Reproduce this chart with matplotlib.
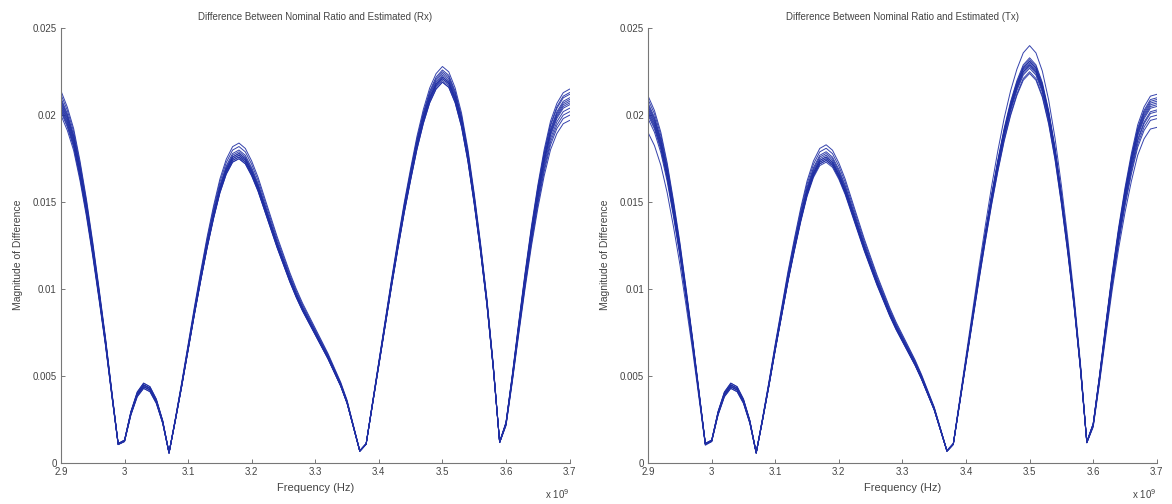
import numpy as np
import matplotlib
matplotlib.use('Agg')
import matplotlib.pyplot as plt
from matplotlib.ticker import FuncFormatter

plt.rcParams['font.family'] = ['Liberation Sans', 'DejaVu Sans']

# frequency grid (GHz), 10 MHz steps
freq_ghz = np.round(np.arange(2.90, 3.705, 0.01), 2)

# typical (centre of the bundle) curve
rx_base = [0.0207, 0.0198, 0.0186, 0.0168, 0.0147, 0.0123, 0.0097, 0.0070, 0.0040, 0.0011,
           0.0013, 0.0029, 0.0040, 0.0045, 0.0043, 0.0036, 0.0024, 0.0006,
           0.0025, 0.0045, 0.0066, 0.0087, 0.0107, 0.0126, 0.0143, 0.0158, 0.0169, 0.0176,
           0.0178, 0.0175, 0.0168, 0.0159, 0.0148, 0.0137, 0.0126, 0.0116, 0.0106, 0.0097,
           0.0089, 0.0082, 0.0075, 0.0068, 0.0061, 0.0053, 0.0045, 0.0035, 0.0021, 0.0007,
           0.0011, 0.0034, 0.0057, 0.0080, 0.0103, 0.0125, 0.0146, 0.0165, 0.0183, 0.0198,
           0.0210, 0.0218, 0.0222, 0.0219, 0.0210, 0.0196, 0.0176, 0.0151, 0.0123, 0.0092,
           0.0055, 0.0012,
           0.0023, 0.0050, 0.0079, 0.0107, 0.0133, 0.0156, 0.0176, 0.0192, 0.0202, 0.0208, 0.0210]

tx_base = [0.0203, 0.0195, 0.0183, 0.0166, 0.0145, 0.0122, 0.0096, 0.0069, 0.0040, 0.0011,
           0.0013, 0.0029, 0.0040, 0.0045, 0.0043, 0.0036, 0.0024, 0.0006,
           0.0025, 0.0045, 0.0066, 0.0086, 0.0106, 0.0124, 0.0141, 0.0156, 0.0167, 0.0174,
           0.0176, 0.0173, 0.0166, 0.0157, 0.0146, 0.0135, 0.0124, 0.0114, 0.0104, 0.0095,
           0.0086, 0.0078, 0.0071, 0.0064, 0.0057, 0.0049, 0.0040, 0.0031, 0.0019, 0.0007,
           0.0011, 0.0035, 0.0059, 0.0083, 0.0107, 0.0130, 0.0152, 0.0172, 0.0190, 0.0205,
           0.0217, 0.0226, 0.0230, 0.0226, 0.0216, 0.0200, 0.0179, 0.0153, 0.0124, 0.0092,
           0.0055, 0.0012,
           0.0022, 0.0049, 0.0078, 0.0106, 0.0131, 0.0153, 0.0172, 0.0188, 0.0198, 0.0204, 0.0205]

# lobes are separated by the notches
lobe_edges = [2.995, 3.075, 3.375, 3.595]

# peak of each of the 12 traces in every lobe (lobe 0 = value at 2.9 GHz, lobe 4 = value at 3.7 GHz)
rx_lobe0 = [0.0214, 0.0212, 0.0210, 0.0209, 0.0208, 0.0207, 0.0206, 0.0205, 0.0204, 0.0203, 0.0202, 0.0200]
rx_lobe1 = [0.0046, 0.0046, 0.0045, 0.0045, 0.0045, 0.0045, 0.0044, 0.0044, 0.0044, 0.0044, 0.0043, 0.0043]
rx_lobe2 = [0.0184, 0.0182, 0.0180, 0.0179, 0.0178, 0.0178, 0.0177, 0.0177, 0.0176, 0.0176, 0.0175, 0.0175]
rx_lobe3 = [0.0228, 0.0226, 0.0225, 0.0224, 0.0223, 0.0222, 0.0222, 0.0221, 0.0221, 0.0220, 0.0219, 0.0219]
rx_lobe4 = [0.0215, 0.0213, 0.0212, 0.0210, 0.0209, 0.0208, 0.0207, 0.0206, 0.0204, 0.0202, 0.0200, 0.0197]

tx_lobe0 = [0.0211, 0.0209, 0.0207, 0.0206, 0.0205, 0.0204, 0.0203, 0.0202, 0.0201, 0.0200, 0.0198, 0.0190]
tx_lobe1 = [0.0046, 0.0046, 0.0045, 0.0045, 0.0045, 0.0045, 0.0044, 0.0044, 0.0044, 0.0044, 0.0043, 0.0043]
tx_lobe2 = [0.0183, 0.0181, 0.0179, 0.0178, 0.0177, 0.0176, 0.0176, 0.0175, 0.0175, 0.0174, 0.0174, 0.0173]
tx_lobe3 = [0.0240, 0.0233, 0.0232, 0.0231, 0.0231, 0.0230, 0.0229, 0.0229, 0.0228, 0.0227, 0.0225, 0.0224]
tx_lobe4 = [0.0212, 0.0210, 0.0209, 0.0208, 0.0207, 0.0206, 0.0205, 0.0203, 0.0202, 0.0200, 0.0198, 0.0193]


def traces(base, lobes):
    # each trace follows the typical shape, scaled lobe by lobe to its own peak
    base = np.array(base)
    lobes = np.array(lobes)
    seg = np.searchsorted(lobe_edges, freq_ghz)
    base_peak = np.array([base[seg == k].max() for k in range(5)])
    base_peak[0] = base[0]
    base_peak[4] = base[-1]
    out = []
    for i in range(lobes.shape[1]):
        out.append(base * lobes[seg, i] / base_peak[seg])
    return out


panels = [
    ('Difference Between Nominal Ratio and Estimated (Rx)',
     traces(rx_base, [rx_lobe0, rx_lobe1, rx_lobe2, rx_lobe3, rx_lobe4])),
    ('Difference Between Nominal Ratio and Estimated (Tx)',
     traces(tx_base, [tx_lobe0, tx_lobe1, tx_lobe2, tx_lobe3, tx_lobe4])),
]

fig = plt.figure(figsize=(11.72, 5.04), dpi=100)
lefts = [0.052, 0.553]
freq_hz = freq_ghz * 1e9
txt = '#444444'

for left, (title, curves) in zip(lefts, panels):
    ax = fig.add_axes([left, 0.081, 0.434, 0.863])
    for y in curves:
        ax.plot(freq_hz, y, color='#1f2ea3', lw=0.7, alpha=0.9)
    ax.set_xlim(2.9e9, 3.7e9)
    ax.set_ylim(0, 0.025)
    ax.set_xticks(np.arange(2.9, 3.75, 0.1) * 1e9)
    ax.set_yticks([0, 0.005, 0.01, 0.015, 0.02, 0.025])
    ax.xaxis.set_major_formatter(FuncFormatter(lambda v, p: '%g' % round(v / 1e9, 2)))
    ax.yaxis.set_major_formatter(FuncFormatter(lambda v, p: '%g' % round(v, 4)))
    for s in ['top', 'right']:
        ax.spines[s].set_visible(False)
    for s in ['left', 'bottom']:
        ax.spines[s].set_color('#777777')
        ax.spines[s].set_linewidth(0.8)
    ax.tick_params(direction='in', length=3, width=0.7, colors='#777777',
                   labelcolor=txt, labelsize=7, pad=3)
    ax.set_title(title, fontsize=7, color=txt, pad=6)
    ax.set_xlabel('Frequency (Hz)', fontsize=8, color=txt, labelpad=4)
    ax.set_ylabel('Magnitude of Difference', fontsize=7.5, color=txt)
    ax.yaxis.set_label_coords(-0.075, 0.48)
    ax.text(1.0, -0.072, r'x 10$^{9}$', transform=ax.transAxes, ha='right', va='center',
            fontsize=7, color=txt)

fig.savefig('out.png', dpi=100, facecolor='white')
